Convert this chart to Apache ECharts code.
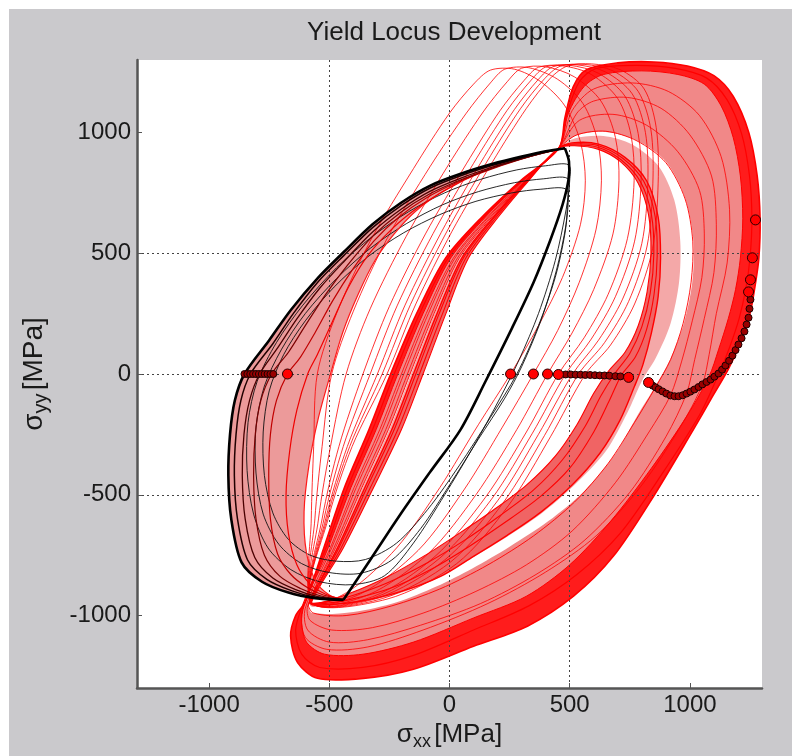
<!DOCTYPE html>
<html><head><meta charset="utf-8">
<script src="https://cdn.jsdelivr.net/npm/echarts@6/dist/echarts.min.js"></script>
<style>html,body{margin:0;padding:0;background:#fff}#c{width:792px;height:756px}</style>
</head><body><div id="c"></div>
<script>
// ---- tick labels ----
const xTicks = [-1000, -500, 0, 500, 1000];
const yTicks = [-1000, -500, 0, 500, 1000];

// ---- left family (compression side) : left arcs from top tip to bottom tip ----
const leftArc0 = [[480,935],[400,922],[300,900],[180,870],[50,830],[-80,780],[-200,710],[-320,620],[-440,505],[-550,395],[-660,265],[-750,140],[-853,0],[-893,-110],[-913,-250],[-920,-420],[-908,-600],[-865,-780],[-780,-860],[-670,-905],[-560,-928],[-441,-935]];
const leftArc1 = [[480,935],[400,920],[300,896],[180,864],[50,822],[-80,770],[-200,698],[-320,606],[-440,490],[-550,378],[-650,250],[-735,125],[-828,0],[-868,-110],[-888,-250],[-895,-420],[-882,-600],[-840,-770],[-760,-850],[-655,-898],[-555,-925],[-441,-935]];
const leftArc2 = [[480,935],[400,918],[300,892],[180,857],[50,812],[-80,757],[-200,683],[-320,588],[-435,470],[-540,355],[-635,228],[-715,108],[-790,0],[-832,-110],[-855,-250],[-862,-420],[-850,-600],[-810,-760],[-735,-845],[-640,-893],[-548,-922],[-441,-935]];
const leftArc3 = [[480,935],[395,916],[295,889],[175,851],[45,803],[-85,744],[-205,668],[-320,570],[-425,450],[-515,330],[-600,200],[-670,90],[-740,0],[-785,-110],[-808,-250],[-815,-420],[-805,-600],[-770,-750],[-705,-838],[-620,-888],[-538,-918],[-441,-935]];
const leftArc4 = [[480,935],[390,915],[285,885],[165,845],[35,795],[-95,730],[-210,650],[-315,550],[-405,430],[-485,305],[-560,170],[-620,70],[-674,0],[-720,-110],[-745,-250],[-752,-420],[-745,-600],[-715,-745],[-660,-830],[-590,-885],[-525,-915],[-441,-935]];
const leftArc5 = [[480,935],[385,916],[260,882],[120,830],[-10,765],[-130,690],[-240,600],[-340,490],[-420,360],[-490,210],[-550,80],[-590,0],[-635,-150],[-665,-320],[-680,-500],[-670,-660],[-635,-790],[-580,-870],[-515,-912],[-441,-935]];
const leftArc7 = [[480,935],[370,915],[240,880],[100,825],[-30,755],[-140,675],[-230,580],[-310,470],[-380,330],[-445,170],[-495,0],[-545,-180],[-585,-380],[-605,-570],[-595,-740],[-555,-860],[-500,-915],[-441,-935]];
const blackRight = [[-441,-935],[-330,-770],[-204,-581],[-80,-405],[46,-230],[150,-30],[260,190],[350,380],[420,556],[470,700],[495,804],[497,880],[480,935]];

// ---- small initial loci (black) ----
const locusK1 = [[495,866],[400,862],[280,845],[130,806],[-20,750],[-170,672],[-320,570],[-470,440],[-610,285],[-720,130],[-800,-30],[-838,-200],[-842,-400],[-815,-580],[-755,-720],[-660,-810],[-540,-860],[-400,-872],[-270,-835],[-150,-700],[-20,-500],[100,-300],[210,-100],[290,60],[370,250],[440,470],[485,680],[500,800]];
const locusK2 = [[490,810],[390,808],[270,792],[120,755],[-30,700],[-180,622],[-330,520],[-470,395],[-600,250],[-700,100],[-770,-50],[-805,-220],[-805,-410],[-775,-580],[-710,-705],[-615,-785],[-500,-822],[-370,-825],[-240,-770],[-120,-640],[0,-460],[120,-270],[230,-100],[300,30],[380,220],[445,430],[485,620],[495,740]];
const locusK3 = [[485,765],[380,765],[260,750],[110,715],[-40,660],[-190,585],[-340,485],[-480,360],[-600,220],[-690,80],[-750,-70],[-775,-240],[-770,-420],[-735,-575],[-670,-685],[-580,-750],[-470,-775],[-350,-768],[-220,-700],[-90,-560],[40,-380],[170,-180],[280,0],[370,200],[440,400],[480,580],[490,690]];

// ---- transitional loci (thin red) ----
const locusT1 = [[-575,-945],[-575,-600],[-565,-300],[-550,0],[-470,250],[-330,550],[-150,850],[0,1080],[100,1200],[170,1258],[270,1262],[380,1210],[480,1110],[545,960],[565,800],[545,620],[470,400],[370,200],[254,0],[120,-210],[-40,-470],[-220,-720],[-420,-900]];
const locusT2 = [[-575,-945],[-560,-600],[-530,-300],[-490,0],[-400,260],[-260,560],[-80,860],[70,1080],[170,1205],[230,1262],[330,1268],[450,1220],[555,1120],[615,970],[632,800],[610,600],[540,380],[450,180],[349,0],[220,-220],[60,-480],[-130,-730],[-370,-910]];
const locusT3 = [[-575,-945],[-545,-600],[-495,-300],[-430,0],[-330,270],[-180,570],[-5,865],[140,1085],[240,1210],[300,1266],[400,1272],[520,1230],[630,1130],[690,980],[705,800],[680,580],[600,350],[510,170],[408,0],[280,-230],[110,-500],[-90,-745],[-340,-915]];
const locusT4 = [[-575,-945],[-530,-600],[-460,-300],[-360,0],[-250,280],[-100,580],[70,870],[210,1090],[310,1215],[370,1270],[470,1276],[590,1240],[700,1140],[755,990],[768,800],[740,560],[660,330],[560,150],[453,0],[320,-240],[150,-510],[-60,-755],[-320,-922]];
const locusT5 = [[-575,-945],[-522,-600],[-442,-300],[-330,0],[-218,282],[-68,582],[100,872],[240,1092],[340,1217],[400,1271],[500,1278],[620,1245],[730,1150],[785,995],[797,795],[770,550],[690,320],[590,145],[483,0],[345,-245],[175,-518],[-40,-762],[-310,-925]];
const locusT6 = [[-575,-945],[-515,-600],[-425,-300],[-300,0],[-185,285],[-35,585],[130,875],[270,1095],[370,1220],[430,1272],[530,1280],[650,1250],[760,1160],[815,1000],[825,790],[800,540],[720,310],[620,140],[512,0],[370,-250],[200,-525],[-20,-770],[-300,-928]];
const locusT7 = [[-575,-945],[-510,-600],[-415,-300],[-280,0],[-162,288],[-12,588],[155,878],[295,1098],[395,1222],[460,1274],[560,1282],[680,1255],[785,1170],[838,1010],[846,790],[822,530],[745,300],[645,130],[537,0],[395,-255],[222,-535],[5,-778],[-280,-930]];
const locusT8 = [[-575,-945],[-505,-600],[-405,-300],[-260,0],[-140,290],[10,590],[180,880],[320,1100],[420,1225],[490,1275],[590,1284],[710,1260],[810,1180],[860,1020],[868,790],[845,520],[770,290],[670,120],[566,0],[420,-260],[245,-545],[30,-785],[-260,-932]];

// ---- inner dense loci ----
const locusRi1 = [[455,935],[520,945],[620,930],[710,880],[785,790],[828,660],[838,500],[822,340],[785,200],[730,90],[660,10],[600,-80],[530,-210],[440,-340],[320,-460],[180,-565],[40,-660],[-100,-750],[-260,-840],[-420,-910],[-530,-945],[-574,-945],[-442,-720],[-316,-470],[-200,-230],[-110,0],[-15,250],[79,480],[203,650],[329,800]];
const locusRi2 = [[455,935],[515,948],[620,938],[715,886],[795,795],[840,660],[850,495],[835,335],[800,195],[750,85],[690,5],[630,-90],[565,-215],[470,-355],[350,-480],[205,-590],[60,-690],[-90,-780],[-260,-865],[-430,-925],[-545,-948],[-577,-945],[-451,-720],[-329,-470],[-215,-230],[-125,0],[-29,250],[68,480],[195,650],[325,800]];
const locusRi3 = [[455,935],[512,952],[620,945],[722,892],[808,798],[855,655],[864,490],[851,330],[820,185],[773,70],[715,-5],[665,-110],[600,-240],[500,-390],[375,-510],[230,-615],[80,-715],[-70,-805],[-240,-885],[-420,-935],[-550,-952],[-580,-945],[-460,-720],[-343,-470],[-230,-230],[-140,0],[-43,250],[58,480],[188,650],[321,800]];
const locusRi4 = [[455,935],[510,957],[620,952],[730,897],[820,800],[868,650],[878,480],[868,320],[840,170],[805,40],[770,-50],[710,-190],[628,-325],[510,-460],[379,-573],[240,-668],[100,-755],[-37,-838],[-200,-900],[-380,-942],[-560,-957],[-582,-945],[-466,-720],[-352,-470],[-240,-230],[-150,0],[-52,250],[51,480],[183,650],[319,800]];

// ---- white strip between the inner and the outer groups ----
const stripInner = [[455,935],[520,975],[640,985],[760,950],[870,860],[935,720],[960,550],[955,380],[920,210],[860,70],[800,-30],[740,-160],[650,-320],[520,-460],[380,-580],[230,-680],[80,-770],[-60,-850],[-220,-912],[-400,-950],[-565,-965],[-584,-950],[-472,-720],[-361,-470],[-250,-230],[-160,0],[-61,250],[44,480],[178,650],[316,800]];
const stripOuter = [[455,935],[530,988],[650,1002],[780,967],[900,880],[980,730],[1015,550],[1010,380],[975,210],[920,65],[860,-45],[780,-175],[690,-330],[560,-485],[410,-610],[250,-715],[95,-805],[-55,-880],[-220,-945],[-400,-985],[-570,-990],[-586,-952],[-474,-720],[-364,-470],[-254,-230],[-164,0],[-64,250],[41,480],[176,650],[315,800]];

// ---- outer loci ----
const locusRo1 = [[455,935],[530,990],[650,1005],[780,965],[900,875],[980,725],[1012,550],[1005,380],[972,210],[920,60],[857,-55],[770,-200],[660,-370],[520,-530],[350,-670],[160,-790],[-40,-890],[-240,-960],[-430,-1000],[-565,-990],[-586,-952],[-474,-720],[-364,-470],[-254,-230],[-164,0],[-64,250],[41,480],[176,650],[315,800]];
const locusRo2 = [[455,935],[540,1050],[680,1075],[820,1030],[950,920],[1040,760],[1060,580],[1050,400],[1010,220],[965,50],[919,-89],[830,-240],[690,-450],[510,-650],[320,-790],[110,-900],[-110,-990],[-320,-1050],[-490,-1060],[-580,-1020],[-590,-960],[-481,-720],[-374,-470],[-265,-230],[-175,0],[-74,250],[33,480],[170,650],[313,800]];
const locusRo3 = [[455,935],[530,1080],[600,1130],[740,1145],[880,1100],[1000,990],[1090,820],[1110,620],[1100,420],[1060,230],[1020,60],[986,-81],[900,-260],[750,-490],[560,-690],[360,-830],[130,-950],[-120,-1040],[-340,-1100],[-500,-1110],[-590,-1060],[-600,-970],[-490,-720],[-388,-470],[-280,-230],[-190,0],[-88,250],[23,480],[163,650],[309,800]];
const locusRo4 = [[455,935],[510,1090],[600,1180],[760,1205],[910,1170],[1040,1070],[1130,900],[1165,680],[1155,460],[1110,250],[1080,80],[1052,-43],[960,-220],[800,-460],[610,-670],[400,-820],[160,-950],[-110,-1060],[-340,-1130],[-510,-1140],[-600,-1090],[-612,-975],[-496,-720],[-397,-470],[-290,-230],[-200,0],[-97,250],[16,480],[158,650],[306,800]];
const locusR1a = [[455,935],[495,1080],[560,1190],[640,1240],[800,1255],[950,1240],[1060,1200],[1130,1110],[1180,980],[1210,820],[1220,643],[1210,480],[1190,350],[1160,230],[1119,100],[1080,-10],[990,-170],[840,-390],[670,-610],[500,-790],[320,-920],[100,-1010],[-150,-1110],[-360,-1160],[-520,-1160],[-595,-1110],[-615,-1030],[-605,-960],[-505,-720],[-410,-470],[-305,-230],[-215,0],[-110,250],[5,480],[150,650],[303,800]];
const locusR1b = [[455,935],[488,1075],[540,1210],[610,1265],[780,1278],[940,1265],[1070,1225],[1155,1135],[1215,995],[1248,820],[1258,643],[1250,480],[1232,350],[1205,230],[1165,110],[1120,0],[1040,-170],[880,-420],[710,-660],[530,-830],[330,-960],[100,-1060],[-150,-1165],[-360,-1215],[-540,-1215],[-615,-1160],[-640,-1060],[-612,-960],[-514,-720],[-424,-470],[-320,-230],[-230,0],[-124,250],[-6,480],[143,650],[299,800]];
const locusR1 = [[455,935],[480,1060],[515,1190],[570,1260],[700,1288],[850,1292],[990,1275],[1100,1235],[1180,1150],[1245,1000],[1280,820],[1292,643],[1287,480],[1272,370],[1250,250],[1210,130],[1160,20],[1090,-100],[1015,-229],[849,-506],[682,-754],[516,-920],[324,-1044],[100,-1127],[-150,-1222],[-358,-1260],[-549,-1260],[-632,-1195],[-661,-1085],[-640,-1000],[-601,-945],[-523,-720],[-437,-470],[-335,-230],[-245,0],[-137,250],[-16,480],[135,650],[295,800]];

// ---- stress points ----
const bigDots = [[254,0],[349,0],[408,0],[453,-2],[745,-14],[828,-35],[1244,340],[1252,390],[1260,481],[1273,638],[-674,0]];
const smallDots = [[-853,0],[-841,0],[-829,0],[-817,0],[-805,0],[-793,0],[-781,0],[-769,0],[-757,0],[-745,0],[-733,0],
 [483,-2],[505,-2],[525,-3],[545,-3],[565,-4],[585,-4],[605,-5],[625,-6],[645,-6],[665,-7],[690,-9],[711,-10],
 [845,-48],[857,-55],[870,-63],[886,-72],[902,-81],[919,-89],[936,-92],[953,-92],[970,-88],[986,-81],[1002,-73],[1019,-64],[1036,-54],[1052,-43],[1069,-33],[1086,-23],[1102,-11],[1119,2],[1134,18],[1148,35],[1163,55],[1177,76],[1190,99],[1202,122],[1215,148],[1227,176],[1236,205],[1244,233],[1248,270],[1252,308]];

// ---- rendering ----
const chart = echarts.init(document.getElementById('c'), null, {renderer: 'canvas'});
function shape(pts, kind, style, z, smooth) {
  return {
    type: 'custom', coordinateSystem: 'cartesian2d', z: z, silent: true, animation: false,
    data: [pts[0]],
    renderItem: function (params, api) {
      return { type: kind, shape: { points: pts.map(function (p) { return api.coord(p); }), smooth: smooth }, style: style };
    }
  };
}
function fill(pts, color) { return shape(pts, 'polygon', { fill: color, stroke: null }, 1, 0.3); }
function loop(pts, color, w) { return shape(pts, 'polygon', { fill: 'none', stroke: color, lineWidth: w }, 2, 0.3); }
function arc(pts, color, w) { return shape(pts, 'polyline', { fill: 'none', stroke: color, lineWidth: w }, 2, 0.3); }

const leftCrescent = leftArc0.concat(leftArc7.slice().reverse());
const RED = '#ff0000';
const series = [
  fill(locusR1, '#ff1c1c'),
  fill(locusR1a, '#f18888'),
  fill(stripOuter, '#ffffff'),
  fill(stripInner, '#f4a8a8'),
  fill(locusRi4, '#f06464'),
  fill(locusRi1, '#ffffff'),
  fill(leftCrescent, '#ec9a9a'),
  loop(locusT1, RED, 0.8), loop(locusT2, RED, 0.8), loop(locusT3, RED, 0.8), loop(locusT4, RED, 0.8),
  loop(locusT5, RED, 0.8), loop(locusT6, RED, 0.8), loop(locusT7, RED, 0.8), loop(locusT8, RED, 0.8),
  loop(locusRo1, RED, 0.9), loop(locusRo2, RED, 0.8), loop(locusRo3, RED, 0.8), loop(locusRo4, RED, 0.8),
  loop(locusR1a, RED, 1), loop(locusR1b, RED, 1.2), loop(locusR1, RED, 1.6),
  loop(locusRi1, RED, 1.1), loop(locusRi2, RED, 1.1), loop(locusRi3, RED, 1.1), loop(locusRi4, RED, 1.4),
  loop(locusK1, '#111', 0.9), loop(locusK2, '#111', 0.9), loop(locusK3, '#111', 0.9),
  arc(leftArc7, '#ff1a1a', 1.2), arc(leftArc5, '#f00000', 1.2), arc(leftArc4, '#c00000', 1.2),
  arc(leftArc3, '#7a0000', 1.2), arc(leftArc2, '#4a0000', 1.3), arc(leftArc1, '#220000', 1.5),
  arc(leftArc0, '#000', 2.6), arc(blackRight, '#000', 2.6),
  { type: 'scatter', data: smallDots, symbolSize: 7, z: 3, silent: true, animation: false,
    itemStyle: { color: '#9a0000', borderColor: '#1a0000', borderWidth: 1, opacity: 1 } },
  { type: 'scatter', data: bigDots, symbolSize: 10, z: 3, silent: true, animation: false,
    itemStyle: { color: '#ff0000', borderColor: '#2a0000', borderWidth: 1, opacity: 1 } }
];

const FONT = 'Liberation Sans, Arial, sans-serif';
function axis(ticks, name, isY) {
  const big = isY ? 28 : 26, small = isY ? 20 : 18;
  return {
    type: 'value', min: -1300, max: 1300, z: 1.5,
    name: name, nameLocation: 'middle', nameGap: isY ? 86 : 31, nameRotate: isY ? 90 : 0,
    nameTextStyle: { fontFamily: FONT, color: '#1a1a1a',
      rich: { a: { fontSize: big, fontFamily: FONT, color: '#1a1a1a' },
              b: { fontSize: small, fontFamily: FONT, color: '#1a1a1a', padding: [14, 0, 0, 0] } } },
    axisLine: { show: true, onZero: false, lineStyle: { color: '#555', width: 2.5 } },
    axisTick: { show: true, inside: true, length: 5, customValues: ticks, lineStyle: { color: '#555' } },
    axisLabel: { customValues: ticks, fontFamily: FONT, fontSize: 24, color: '#1a1a1a', margin: isY ? 6 : 5,
      formatter: function (v) { return String(v); } },
    splitLine: { show: true, showMinLine: false, showMaxLine: false,
      lineStyle: { color: '#444', width: 1, type: [2, 3] } }
  };
}

chart.setOption({
  backgroundColor: '#ffffff',
  animation: false,
  graphic: [{ type: 'rect', z: -10, silent: true, shape: { x: 9, y: 9, width: 783, height: 747 }, style: { fill: '#cac9cc' } }],
  title: { text: 'Yield Locus Development', left: 449, top: 15, textAlign: 'center',
    textStyle: { fontFamily: FONT, fontSize: 26, fontWeight: 'normal', color: '#1a1a1a' } },
  grid: { left: 137, right: 30, top: 60, bottom: 67, show: true, backgroundColor: '#ffffff', borderWidth: 0 },
  xAxis: axis(xTicks, '{a|σ}{b|xx} {a|[MPa]}', false),
  yAxis: axis(yTicks, '{a|σ}{b|yy} {a|[MPa]}', true),
  series: series
});
</script></body></html>
